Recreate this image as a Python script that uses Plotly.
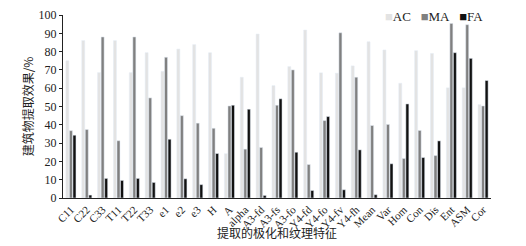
import plotly.graph_objects as go

categories = ["C11", "C22", "C33", "T11", "T22", "T33", "e1", "e2", "e3", "H", "A", "alpha",
              "A3-fd", "A3-fs", "A3-fo", "Y4-fd", "Y4-fo", "Y4-fv", "Y4-fh", "Mean", "Var",
              "Hom", "Con", "Dis", "Ent", "ASM", "Cor"]
ac = [75, 86, 68.5, 86, 68.5, 79.4, 69.2, 81.4, 83.8, 79.4, 24.2, 66,
      89.6, 61.4, 71.8, 91.8, 68.4, 68.2, 72.2, 85.4, 80.9,
      62.7, 80.5, 79, 60.2, 60.2, 51]
ma = [36.8, 37.4, 88, 31.3, 88, 54.7, 76.9, 45, 40.9, 38.1, 50.3, 26.7,
      27.6, 50.7, 70, 18.3, 42.3, 90.3, 66, 39.6, 40.2,
      21.6, 36.9, 23.2, 95.4, 94.7, 50.3]
fa = [34.3, 1.6, 10.7, 9.6, 10.7, 8.5, 32.1, 10.5, 7.3, 24.3, 50.7, 48.5,
      1.4, 54.2, 25, 4.1, 44.5, 4.5, 26.3, 1.8, 18.7,
      51.4, 22.1, 31.2, 79.4, 76.3, 64.2]
series_names = ["AC", "MA", "FA"]
colors = ["#e3e3e3", "#808080", "#111111"]

serif = "Liberation Serif, Times New Roman, serif"
cjk = "Noto Sans CJK SC"

fig = go.Figure()
for name, vals, col in zip(series_names, [ac, ma, fa], colors):
    fig.add_trace(go.Bar(name=name, x=categories, y=vals, marker_color=col))

legend_text = "&nbsp;&nbsp;&nbsp;".join(
    f"<span style='color:{c}'>■</span>{n}" for n, c in zip(series_names, colors))
fig.add_annotation(text=legend_text, xref="paper", yref="paper", x=0.985, y=0.99,
                   xanchor="right", yanchor="middle", showarrow=False,
                   font=dict(family=serif, size=13, color="#222"))
fig.add_annotation(text="提取的极化和纹理特征", xref="paper", yref="paper", x=0.5, y=-0.19,
                   xanchor="center", yanchor="middle", showarrow=False,
                   font=dict(family=cjk, size=12, color="#222"))

fig.update_layout(
    width=526, height=246,
    margin=dict(l=63, r=35, t=15, b=48),
    paper_bgcolor="white", plot_bgcolor="white",
    barmode="group", bargap=0.33, bargroupgap=0.15,
    showlegend=False,
    font=dict(family=serif, size=12, color="#222"),
    xaxis=dict(showline=True, linecolor="#222", linewidth=1, ticks="", automargin=False,
               tickangle=-45, tickfont=dict(family=serif, size=11)),
    yaxis=dict(range=[0, 100], dtick=10, showline=True, linecolor="#222", linewidth=1,
               ticks="outside", ticklen=3, tickcolor="#222", showgrid=False, zeroline=False,
               automargin=False, tickfont=dict(family=serif, size=12),
               title=dict(text="建筑物提取效果/%", font=dict(family=cjk, size=12), standoff=2)),
)
fig.write_html("out.html", config={"displayModeBar": False},
               post_script="document.body.style.margin='0';document.body.style.overflow='hidden';")
